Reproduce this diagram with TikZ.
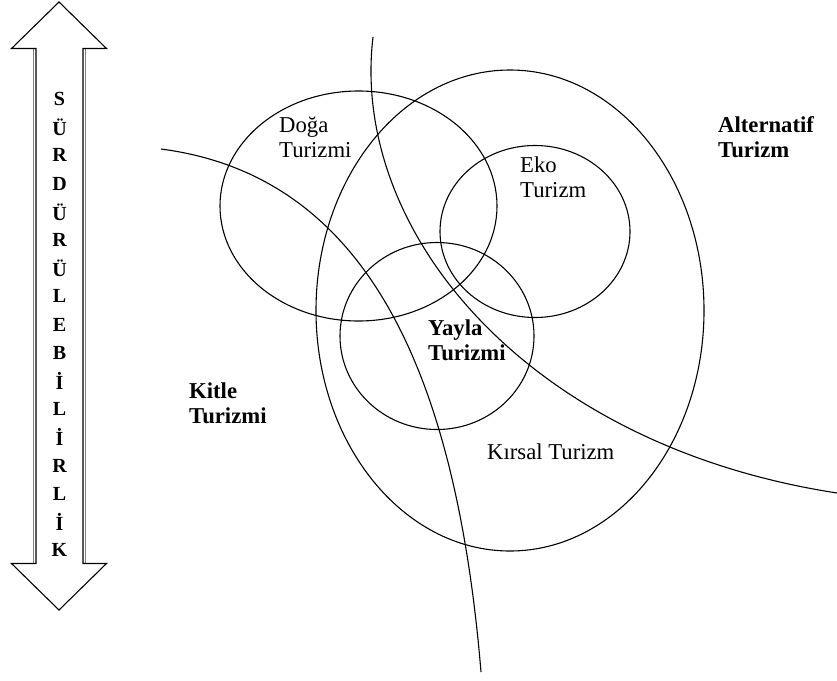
\documentclass[tikz,border=0pt]{standalone}
\usepackage{fontspec}
\setmainfont{Liberation Serif}
\begin{document}
\begin{tikzpicture}[x=1pt,y=-1pt,
  lbl/.style={anchor=west,inner sep=0pt,align=left,font=\fontsize{22.7}{25}\selectfont},
  blbl/.style={lbl,font=\fontsize{22.7}{25}\selectfont\bfseries},
  letter/.style={inner sep=0pt,font=\fontsize{20}{24}\selectfont\bfseries},
  ln/.style={line width=1.1pt,black}]
\useasboundingbox (0,0) rectangle (837,680);
% double arrow
\draw[gray,line width=1.4pt] (33.5,49) -- (33.5,563) (85.5,49) -- (85.5,563);
\draw[ln,line join=miter] (59,2) -- (106.5,48.5) -- (83,48.5) -- (83,563.5) -- (106.5,563.5) -- (59,610) -- (11.5,563.5) -- (36,563.5) -- (36,48.5) -- (11.5,48.5) -- cycle;
\foreach \ch [count=\i from 0] in {S,Ü,R,D,Ü,R,Ü,L,E,B,İ,L,İ,R,L,İ,K}
  \node[letter] (l\i) at (59.5,{99+28.2*\i}) {\ch};
% ellipses
\draw[ln] (510,310.5) ellipse [x radius=194, y radius=240.5];
\draw[ln] (358.5,206) ellipse [x radius=138.5, y radius=115];
\draw[ln] (535,231.5) ellipse [x radius=95, y radius=86];
\draw[ln] (437,336) ellipse [x radius=97, y radius=93.5];
% curves
\coordinate (a0) at (373,37);
\coordinate (a1) at (837,493);
\coordinate (b0) at (161,149);
\coordinate (b1) at (481,672);
\draw[ln] (a0) .. controls (350,230) and (525,445) .. (a1);
\draw[ln] (b0) .. controls (360,175) and (455,360) .. (b1);
% labels
\node[lbl] (doga) at (279,137) {Doğa\\Turizmi};
\node[lbl] (eko) at (520,177) {Eko\\Turizm};
\node[blbl] (yayla) at (428,340) {Yayla\\Turizmi};
\node[blbl] (kitle) at (189,403) {Kitle\\Turizmi};
\node[blbl] (alt) at (718,137) {Alternatif\\Turizm};
\node[lbl] (kirsal) at (487,452) {Kırsal Turizm};
\end{tikzpicture}
\end{document}
